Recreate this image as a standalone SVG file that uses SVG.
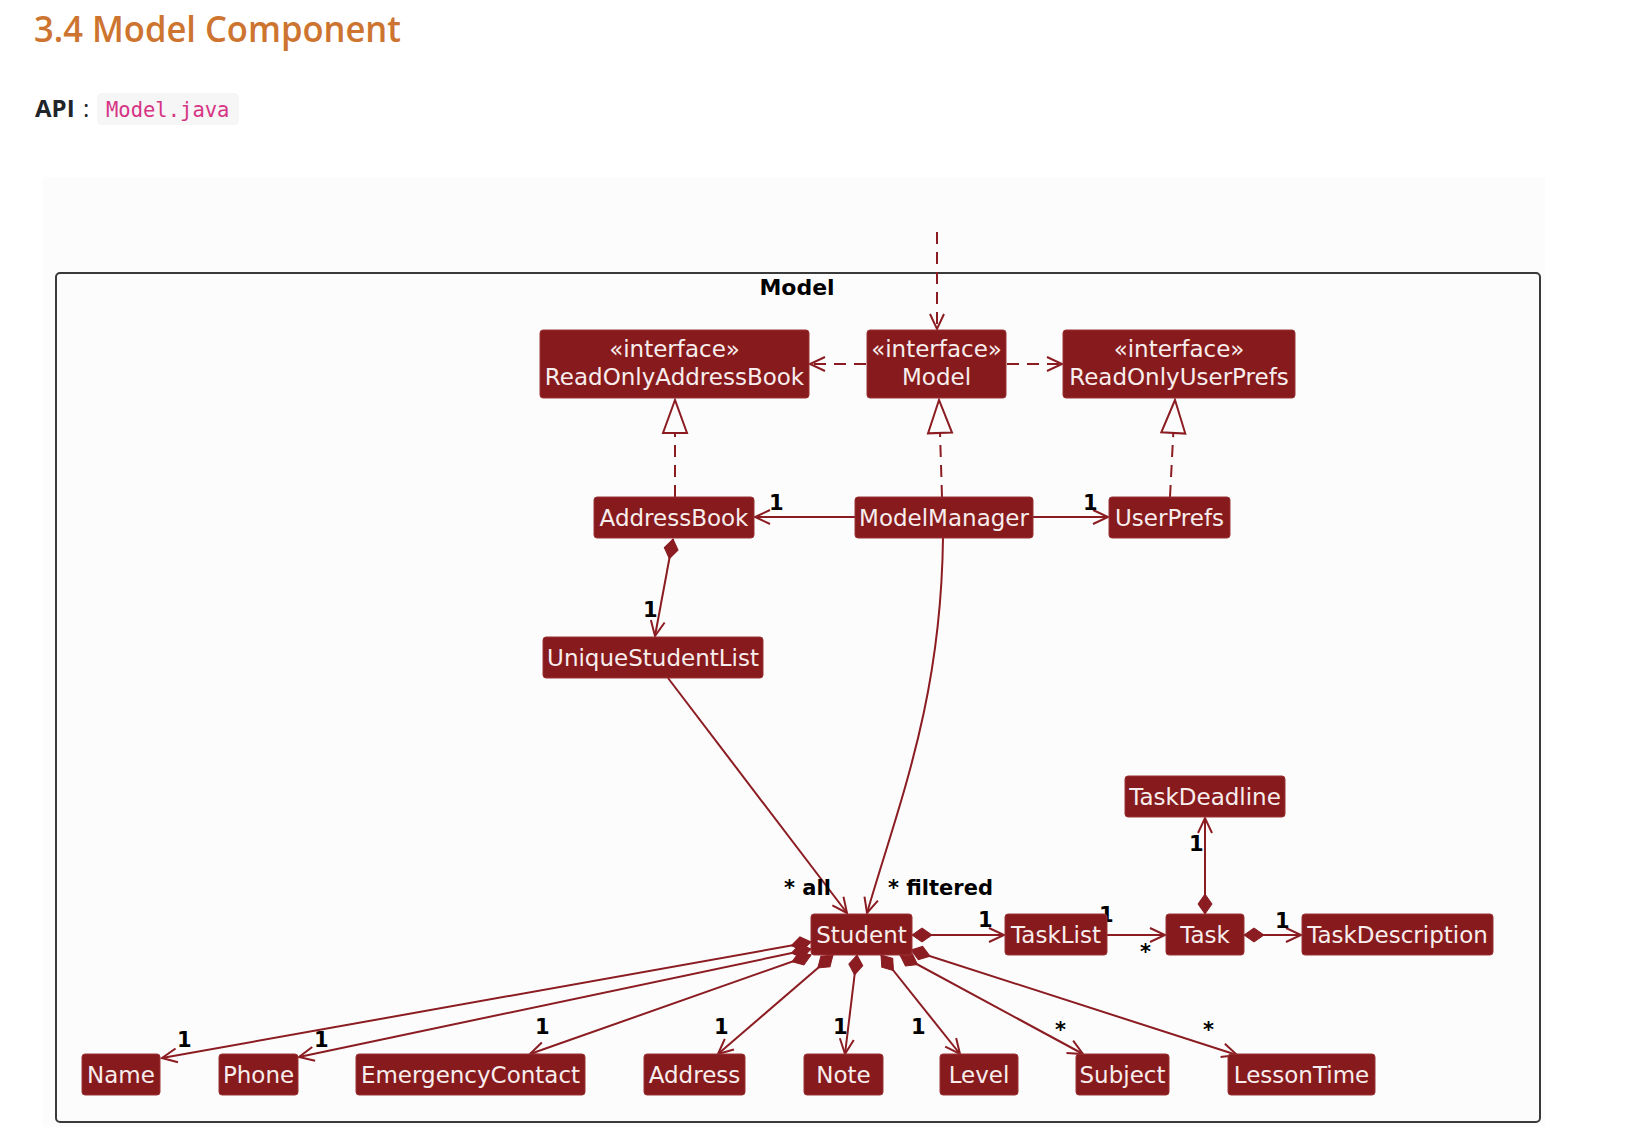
<svg xmlns="http://www.w3.org/2000/svg" width="1625" height="1127" viewBox="0 0 1625 1127">
  <style>
    .title { font-family: "Open Sans", "Liberation Sans", sans-serif; font-weight: 600; font-size: 36px; fill: #cd7530; }
    .api { font-family: "Open Sans", "Liberation Sans", sans-serif; font-weight: 700; font-size: 24px; fill: #212529; }
    .colon { font-family: "Open Sans", "Liberation Sans", sans-serif; font-size: 24px; fill: #212529; }
    .code { font-family: "DejaVu Sans Mono", "Liberation Mono", monospace; font-size: 20.5px; fill: #d63384; }
    .node rect { fill: #871a1c; stroke: #9a3337; stroke-width: 1; }
    .node text { font-family: "DejaVu Sans", "Liberation Sans", sans-serif; font-size: 23px; fill: #f7eded; text-anchor: middle; }
    .frame-label { font-family: "DejaVu Sans", "Liberation Sans", sans-serif; font-weight: bold; font-size: 22px; fill: #000; text-anchor: middle; }
    .mult { font-family: "DejaVu Sans", "Liberation Sans", sans-serif; font-weight: bold; font-size: 21px; fill: #000; }
    .edge { fill: none; stroke: #8a1c22; stroke-width: 2; }
    .dash { stroke-dasharray: 12 8; }
  </style>
  <defs>
    <marker id="open" markerUnits="userSpaceOnUse" viewBox="-20 -10 24 20" refX="0" refY="0" markerWidth="24" markerHeight="20" orient="auto" overflow="visible">
      <path d="M-15,-7 L0,0 L-15,7" fill="none" stroke="#8a1c22" stroke-width="2" stroke-dasharray="none"/>
    </marker>
    <marker id="diamond" markerUnits="userSpaceOnUse" viewBox="-2 -10 24 20" refX="0" refY="0" markerWidth="24" markerHeight="20" orient="auto" overflow="visible">
      <path d="M0,0 L10,-7 L20,0 L10,7 Z" fill="#8a1c22" stroke="#8a1c22" stroke-width="1" stroke-dasharray="none"/>
    </marker>
    <marker id="realize" markerUnits="userSpaceOnUse" viewBox="-36 -14 38 28" refX="0" refY="0" markerWidth="38" markerHeight="28" orient="auto" overflow="visible">
      <path d="M0,0 L-33,-12 L-33,12 Z" fill="#fdfcfc" stroke="#8a1c22" stroke-width="2" stroke-dasharray="none"/>
    </marker>
  </defs>

  <rect width="1625" height="1127" fill="#ffffff"/>

  <!-- page heading -->
  <text class="title" x="34" y="42" textLength="367" lengthAdjust="spacingAndGlyphs">3.4 Model Component</text>
  <text class="api" x="35" y="117">API</text>
  <text class="colon" x="83" y="117">:</text>
  <rect x="97" y="93" width="142" height="32" rx="5" fill="#f6f6f6"/>
  <text class="code" x="106" y="117">Model.java</text>

  <!-- diagram canvas and package frame -->
  <rect x="43" y="177" width="1502" height="950" fill="#fdfcfc"/>
  <rect x="56" y="273" width="1484" height="849" rx="4" fill="none" stroke="#3a3a3a" stroke-width="2"/>
  <text class="frame-label" x="797" y="295">Model</text>

  <!-- connectors -->
  <g id="connectors">
    <line class="edge dash" x1="937" y1="232" x2="937" y2="329" marker-end="url(#open)"/>
    <line class="edge dash" x1="866" y1="364" x2="810" y2="364" marker-end="url(#open)"/>
    <line class="edge dash" x1="1007" y1="364" x2="1062" y2="364" marker-end="url(#open)"/>

    <line class="edge dash" x1="675" y1="497" x2="675" y2="400" marker-end="url(#realize)"/>
    <line class="edge dash" x1="942" y1="497" x2="939" y2="400" marker-end="url(#realize)"/>
    <line class="edge dash" x1="1170" y1="497" x2="1175" y2="400" marker-end="url(#realize)"/>

    <line class="edge" x1="855" y1="517" x2="755" y2="517" marker-end="url(#open)"/>
    <line class="edge" x1="1033" y1="517" x2="1108" y2="517" marker-end="url(#open)"/>

    <path class="edge" d="M673,539 L655,636" marker-start="url(#diamond)" marker-end="url(#open)"/>
    <path class="edge" d="M668,678 L847,913" marker-end="url(#open)"/>
    <path class="edge" d="M943,538 C941,700 900,800 867,913" marker-end="url(#open)"/>

    <path class="edge" d="M912,935 L1004,935" marker-start="url(#diamond)" marker-end="url(#open)"/>
    <path class="edge" d="M1107,935 L1165,935" marker-end="url(#open)"/>
    <path class="edge" d="M1244,935 L1301,935" marker-start="url(#diamond)" marker-end="url(#open)"/>
    <path class="edge" d="M1205,914 L1205,818" marker-start="url(#diamond)" marker-end="url(#open)"/>

    <path class="edge" d="M811,942 L162,1058" marker-start="url(#diamond)" marker-end="url(#open)"/>
    <path class="edge" d="M811,949 L299,1057" marker-start="url(#diamond)" marker-end="url(#open)"/>
    <path class="edge" d="M811,955 L530,1054" marker-start="url(#diamond)" marker-end="url(#open)"/>
    <path class="edge" d="M833,955 L718,1054" marker-start="url(#diamond)" marker-end="url(#open)"/>
    <path class="edge" d="M857,955 L845,1054" marker-start="url(#diamond)" marker-end="url(#open)"/>
    <path class="edge" d="M881,955 L960,1054" marker-start="url(#diamond)" marker-end="url(#open)"/>
    <path class="edge" d="M900,955 L1083,1054" marker-start="url(#diamond)" marker-end="url(#open)"/>
    <path class="edge" d="M911,950 L1237,1055" marker-start="url(#diamond)" marker-end="url(#open)"/>

    <!-- multiplicities and role names -->
    <text class="mult" x="769" y="510">1</text>
    <text class="mult" x="1083" y="510">1</text>
    <text class="mult" x="643" y="617">1</text>
    <text class="mult" x="784" y="895">* all</text>
    <text class="mult" x="888" y="895">* filtered</text>
    <text class="mult" x="978" y="927">1</text>
    <text class="mult" x="1099" y="922">1</text>
    <text class="mult" x="1140" y="959">*</text>
    <text class="mult" x="1275" y="928">1</text>
    <text class="mult" x="1189" y="851">1</text>
    <text class="mult" x="177" y="1047">1</text>
    <text class="mult" x="314" y="1047">1</text>
    <text class="mult" x="535" y="1034">1</text>
    <text class="mult" x="714" y="1034">1</text>
    <text class="mult" x="833" y="1034">1</text>
    <text class="mult" x="911" y="1034">1</text>
    <text class="mult" x="1055" y="1037">*</text>
    <text class="mult" x="1203" y="1037">*</text>
  </g>

  <!-- classes and interfaces -->
  <g id="ReadOnlyAddressBook" class="node">
    <rect x="540" y="330" width="269" height="68" rx="3"/>
    <text x="674.5" y="357">«interface»</text>
    <text x="674.5" y="385">ReadOnlyAddressBook</text>
  </g>
  <g id="Model" class="node">
    <rect x="867" y="330" width="139" height="68" rx="3"/>
    <text x="936.5" y="357">«interface»</text>
    <text x="936.5" y="385">Model</text>
  </g>
  <g id="ReadOnlyUserPrefs" class="node">
    <rect x="1063" y="330" width="232" height="68" rx="3"/>
    <text x="1179" y="357">«interface»</text>
    <text x="1179" y="385">ReadOnlyUserPrefs</text>
  </g>
  <g id="AddressBook" class="node">
    <rect x="594" y="497" width="160" height="41" rx="3"/>
    <text x="674" y="526">AddressBook</text>
  </g>
  <g id="ModelManager" class="node">
    <rect x="855" y="497" width="178" height="41" rx="3"/>
    <text x="944" y="526">ModelManager</text>
  </g>
  <g id="UserPrefs" class="node">
    <rect x="1109" y="497" width="121" height="41" rx="3"/>
    <text x="1169.5" y="526">UserPrefs</text>
  </g>
  <g id="UniqueStudentList" class="node">
    <rect x="543" y="637" width="220" height="41" rx="3"/>
    <text x="653" y="666">UniqueStudentList</text>
  </g>
  <g id="TaskDeadline" class="node">
    <rect x="1125" y="776" width="160" height="41" rx="3"/>
    <text x="1205" y="805">TaskDeadline</text>
  </g>
  <g id="Student" class="node">
    <rect x="811" y="914" width="101" height="41" rx="3"/>
    <text x="861.5" y="943">Student</text>
  </g>
  <g id="TaskList" class="node">
    <rect x="1005" y="914" width="102" height="41" rx="3"/>
    <text x="1056" y="943">TaskList</text>
  </g>
  <g id="Task" class="node">
    <rect x="1166" y="914" width="78" height="41" rx="3"/>
    <text x="1205" y="943">Task</text>
  </g>
  <g id="TaskDescription" class="node">
    <rect x="1302" y="914" width="191" height="41" rx="3"/>
    <text x="1397.5" y="943">TaskDescription</text>
  </g>
  <g id="Name" class="node">
    <rect x="82" y="1054" width="78" height="41" rx="3"/>
    <text x="121" y="1083">Name</text>
  </g>
  <g id="Phone" class="node">
    <rect x="219" y="1054" width="79" height="41" rx="3"/>
    <text x="258.5" y="1083">Phone</text>
  </g>
  <g id="EmergencyContact" class="node">
    <rect x="356" y="1054" width="229" height="41" rx="3"/>
    <text x="470.5" y="1083">EmergencyContact</text>
  </g>
  <g id="Address" class="node">
    <rect x="644" y="1054" width="101" height="41" rx="3"/>
    <text x="694.5" y="1083">Address</text>
  </g>
  <g id="Note" class="node">
    <rect x="804" y="1054" width="79" height="41" rx="3"/>
    <text x="843.5" y="1083">Note</text>
  </g>
  <g id="Level" class="node">
    <rect x="940" y="1054" width="78" height="41" rx="3"/>
    <text x="979" y="1083">Level</text>
  </g>
  <g id="Subject" class="node">
    <rect x="1076" y="1054" width="93" height="41" rx="3"/>
    <text x="1122.5" y="1083">Subject</text>
  </g>
  <g id="LessonTime" class="node">
    <rect x="1228" y="1054" width="147" height="41" rx="3"/>
    <text x="1301.5" y="1083">LessonTime</text>
  </g>
</svg>
